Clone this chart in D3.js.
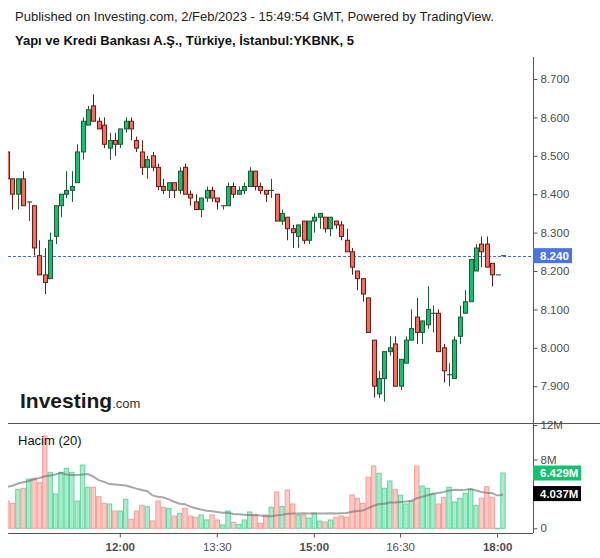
<!DOCTYPE html>
<html>
<head>
<meta charset="utf-8">
<script src="https://cdn.jsdelivr.net/npm/d3@7"></script>
<style>
  body { margin: 0; background: #fff; }
  svg { display: block; font-family: "Liberation Sans", Arial, sans-serif; }
</style>
</head>
<body>
<svg id="chart" width="600" height="558"></svg>
<script>
// --- dati (prezzi in TRY, volumi in milioni) ---
const opens = [8.51,8.44,8.40,8.44,8.38,8.37,8.24,8.19,8.18,8.29,8.37,8.40,8.41,8.43,8.51,8.58,8.63,8.59,8.58,8.52,
  8.54,8.53,8.57,8.59,8.54,8.51,8.47,8.50,8.47,8.42,8.41,8.43,8.41,8.47,8.40,8.38,8.36,8.39,8.41,8.39,
  8.37,8.37,8.42,8.40,8.41,8.42,8.46,8.42,8.41,8.41,8.40,8.33,8.34,8.31,8.29,8.33,8.28,8.33,8.34,8.34,
  8.31,8.33,8.32,8.28,8.25,8.20,8.18,8.13,8.02,7.88,7.92,7.99,8.01,7.90,7.96,8.02,8.08,8.04,8.06,8.09,
  8.09,8.00,7.93,7.92,8.03,8.09,8.12,8.20,8.27,8.27,8.22,8.19,8.24]
const highs = [8.51,8.44,8.44,8.46,8.38,8.37,8.28,8.26,8.30,8.37,8.40,8.46,8.46,8.53,8.60,8.63,8.66,8.60,8.60,8.56,
  8.56,8.57,8.60,8.60,8.55,8.54,8.50,8.51,8.48,8.44,8.43,8.43,8.47,8.48,8.41,8.40,8.39,8.42,8.42,8.39,
  8.37,8.43,8.43,8.42,8.43,8.47,8.46,8.43,8.41,8.44,8.40,8.36,8.34,8.32,8.32,8.33,8.33,8.35,8.35,8.34,
  8.34,8.33,8.33,8.31,8.26,8.20,8.18,8.13,8.02,7.94,7.99,8.03,8.03,7.97,8.03,8.10,8.13,8.07,8.16,8.11,
  8.10,8.01,7.96,8.03,8.11,8.15,8.23,8.27,8.29,8.29,8.22,8.19,8.24]
const lows = [8.44,8.36,8.36,8.37,8.33,8.24,8.19,8.14,8.18,8.27,8.34,8.39,8.38,8.43,8.49,8.58,8.59,8.57,8.52,8.49,
  8.50,8.52,8.56,8.54,8.51,8.45,8.44,8.46,8.41,8.40,8.39,8.39,8.40,8.40,8.37,8.36,8.34,8.38,8.38,8.36,
  8.36,8.37,8.39,8.40,8.40,8.42,8.41,8.40,8.38,8.39,8.33,8.32,8.28,8.26,8.26,8.27,8.27,8.30,8.31,8.30,
  8.29,8.31,8.28,8.25,8.19,8.15,8.12,8.04,7.87,7.87,7.86,7.98,7.90,7.89,7.96,8.02,8.01,8.01,8.05,8.04,
  7.99,7.91,7.90,7.92,8.01,8.09,8.12,8.20,8.21,8.21,8.16,8.19,8.24]
const closes = [8.44,8.40,8.44,8.37,8.38,8.26,8.19,8.17,8.28,8.37,8.40,8.41,8.42,8.51,8.59,8.62,8.59,8.57,8.53,8.54,
  8.53,8.57,8.59,8.57,8.52,8.47,8.49,8.47,8.42,8.41,8.43,8.41,8.46,8.40,8.39,8.36,8.39,8.41,8.39,8.38,
  8.37,8.42,8.40,8.41,8.42,8.46,8.42,8.41,8.40,8.41,8.33,8.35,8.31,8.30,8.32,8.28,8.33,8.34,8.35,8.31,
  8.34,8.32,8.29,8.25,8.21,8.18,8.14,8.04,7.90,7.92,7.99,8.00,7.90,7.97,8.02,8.05,8.04,8.07,8.10,8.09,
  7.99,7.94,7.93,8.02,8.08,8.12,8.23,8.26,8.25,8.21,8.19,8.19,8.24]
const volumes = [3.17,2.90,4.53,4.65,5.73,5.81,5.30,10.73,6.51,3.99,6.51,6.98,6.51,3.17,7.36,4.77,4.77,3.67,2.90,2.83,
  2.01,2.01,3.37,1.05,2.01,2.67,2.51,0.85,3.17,2.44,2.32,1.43,1.74,2.32,1.43,1.28,1.55,0.97,1.55,0.97,
  0.38,2.01,0.70,0.45,0.97,1.90,1.63,0.58,1.55,2.44,4.22,2.56,4.45,2.83,1.55,1.55,1.20,1.74,0.85,0.73,
  0.97,1.28,1.43,1.28,3.87,3.49,2.90,5.93,7.24,6.40,4.65,5.50,4.53,3.84,2.83,3.17,7.24,4.92,4.65,3.99,
  2.83,3.60,4.77,3.06,3.49,4.07,4.53,2.67,3.49,4.84,3.60,0,6.429]
// media mobile a 20 per le prime barre (dipende da dati precedenti)
const maHead = [4.80,4.95,5.20,5.35,5.50,5.70,5.85,6.05,6.15,6.25,6.45,6.25,6.20,6.20,6.25,6.30,6.00,5.60,5.40]
const timeLabels = ['12:00','13:30','15:00','16:30','18:00']
const timeBars = [21,39,57,73,91]
const priceTicks = [7.9,8.0,8.1,8.2,8.3,8.4,8.5,8.6,8.7]
const volTicks = [0,8,12]
const lastPrice = 8.24
const lastVolume = 6.429
const lastMa = 4.037

const svg = d3.select('#chart')
const upFill = '#0fc26d', upLine = '#1d5b37'
const dnFill = '#fb6b5c', dnLine = '#6b1c17'
const axisColor = '#555'
const labelColor = '#4d4d4d'

const left = 8, right = 533
const priceTop = 57, priceBottom = 423
const volTop = 423, volBottom = 533

const bars = opens.map((o, i) => ({ i: i, o: o, h: highs[i], l: lows[i], c: closes[i], v: volumes[i] }))

// media mobile: prime barre lette, poi calcolata
bars.forEach((d, i) => {
	d.ma = i < maHead.length ? maHead[i] : d3.mean(volumes.slice(i - 19, i + 1))
})

const x = d3.scaleBand()
	.domain(d3.range(bars.length))
	.range([4.4, 4.4 + 5.39 * bars.length])
const cx = i => x(i) + x.bandwidth() / 2

const y = d3.scaleLinear().domain([7.9, 8.7]).range([386.2, 79])
const yv = d3.scaleLinear().domain([0, 12]).range([528.3, 425.1])

svg.append('rect').attr('width', 600).attr('height', 558).attr('fill', '#fff')

// intestazione
svg.append('text')
	.attr('x', 15).attr('y', 21)
	.style('font-size', '13px').style('fill', '#222')
	.text('Published on Investing.com, 2/Feb/2023 - 15:49:54 GMT, Powered by TradingView.')
svg.append('text')
	.attr('x', 15).attr('y', 45)
	.style('font-size', '13px').style('font-weight', 'bold').style('fill', '#111')
	.text('Yapı ve Kredi Bankası A.Ş., Türkiye, İstanbul:YKBNK, 5')

const defs = svg.append('defs')
defs.append('clipPath').attr('id', 'clipPrice')
	.append('rect').attr('x', left).attr('y', priceTop).attr('width', right - left).attr('height', priceBottom - priceTop)
defs.append('clipPath').attr('id', 'clipVol')
	.append('rect').attr('x', left).attr('y', volTop).attr('width', right - left).attr('height', volBottom - volTop)

// logo
const logo = svg.append('text').attr('x', 20).attr('y', 408).style('fill', '#1a1a1a')
logo.append('tspan').text('Investing').style('font-size', '21px').style('font-weight', 'bold')
logo.append('tspan').text('.com').style('font-size', '13px').style('fill', '#333')

// candele
const pricePane = svg.append('g').attr('clip-path', 'url(#clipPrice)')

pricePane.append('line')
	.attr('x1', left).attr('x2', right)
	.attr('y1', Math.round(y(lastPrice)) + 0.5).attr('y2', Math.round(y(lastPrice)) + 0.5)
	.attr('stroke', '#3d6ae0').attr('stroke-dasharray', '3,2')

const candles = pricePane.selectAll('g.candle')
	.data(bars)
	.enter()
	.append('g')
	.attr('class', 'candle')

candles.append('line')
	.attr('x1', d => Math.round(cx(d.i)) + 0.5)
	.attr('x2', d => Math.round(cx(d.i)) + 0.5)
	.attr('y1', d => y(d.h))
	.attr('y2', d => y(d.l))
	.attr('stroke', d => d.c >= d.o ? upLine : dnLine)

candles.append('rect')
	.attr('x', d => Math.round(cx(d.i)) - 1.5)
	.attr('width', 4)
	.attr('y', d => y(Math.max(d.o, d.c)))
	.attr('height', d => Math.max(0.1, y(Math.min(d.o, d.c)) - y(Math.max(d.o, d.c))))
	.attr('fill', d => d.c >= d.o ? upFill : dnFill)
	.attr('stroke', d => d.c >= d.o ? upLine : dnLine)
	.attr('stroke-width', 1)

// volumi
const volPane = svg.append('g').attr('clip-path', 'url(#clipVol)')

volPane.selectAll('rect.vol')
	.data(bars)
	.enter()
	.append('rect')
	.attr('class', 'vol')
	.attr('x', d => x(d.i) + 0.5)
	.attr('width', x.bandwidth() - 1)
	.attr('y', d => yv(d.v))
	.attr('height', d => Math.max(0.5, yv(0) - yv(d.v)))
	.attr('fill', d => d.c >= d.o ? '#a9ebcb' : '#ffc9c5')
	.attr('stroke', d => d.c >= d.o ? '#5fd9a0' : '#fb9d95')
	.attr('stroke-width', 1)

volPane.append('path')
	.datum(bars)
	.attr('d', d3.line().x(d => cx(d.i)).y(d => yv(d.ma)))
	.attr('fill', 'none')
	.attr('stroke', '#6e6e6e')
	.attr('stroke-opacity', 0.6)
	.attr('stroke-width', 2)

svg.append('text')
	.attr('x', 18).attr('y', 445)
	.style('font-size', '13px').style('fill', '#111')
	.text('Hacim (20)')

// cornici
svg.append('line').attr('x1', left).attr('x2', 600).attr('y1', volTop + 0.5).attr('y2', volTop + 0.5).attr('stroke', axisColor)
svg.append('line').attr('x1', left).attr('x2', right).attr('y1', volBottom + 0.5).attr('y2', volBottom + 0.5).attr('stroke', axisColor)

// assi
const priceAxis = svg.append('g')
	.attr('transform', `translate(${right + 0.5}, 0)`)
	.call(d3.axisRight(y).tickValues(priceTicks).tickFormat(d3.format('.3f')).tickSize(4).tickSizeOuter(0))
const volAxis = svg.append('g')
	.attr('transform', `translate(${right + 0.5}, 0)`)
	.call(d3.axisRight(yv).tickValues(volTicks).tickFormat(d => d === 0 ? '0' : d + 'M').tickSize(4).tickSizeOuter(0))

svg.selectAll('path.domain').remove()
svg.append('line')
	.attr('x1', right + 0.5).attr('x2', right + 0.5)
	.attr('y1', priceTop).attr('y2', volBottom)
	.attr('stroke', axisColor)

const timeAxis = svg.append('g')
	.attr('transform', `translate(0, ${volBottom + 0.5})`)
	.call(d3.axisBottom(x).tickValues(timeBars).tickFormat((d, k) => timeLabels[k]).tickSize(4).tickSizeOuter(0))
timeAxis.select('path.domain').remove()

svg.selectAll('.tick line').attr('stroke', axisColor)
svg.selectAll('.tick text')
	.style('font-family', '"Liberation Sans", Arial, sans-serif')
	.style('font-size', '11.5px')
	.attr('fill', labelColor)
priceAxis.selectAll('.tick text').attr('x', 7)
volAxis.selectAll('.tick text').attr('x', 7)
timeAxis.selectAll('.tick text')
	.attr('y', 9)
	.style('font-weight', (d, k) => timeLabels[k].endsWith(':00') ? 'bold' : 'normal')

// etichette dell'ultimo valore
const tag = (val, text, fill) => {
	const g = svg.append('g').attr('transform', `translate(${right}, ${val})`)
	g.append('rect').attr('x', 0).attr('y', -7.5).attr('width', text.length > 5 ? 48 : 39).attr('height', 15).attr('fill', fill)
	g.append('text').attr('x', 7).attr('y', 0).attr('dy', '0.35em')
		.style('font-size', '11.5px').style('font-weight', 'bold').style('fill', '#fff')
		.text(text)
}
tag(y(lastPrice), d3.format('.3f')(lastPrice), '#4a74e6')
tag(yv(lastVolume), d3.format('.3f')(lastVolume) + 'M', '#13c26e')
tag(yv(lastMa), d3.format('.3f')(lastMa) + 'M', '#000')
</script>
</body>
</html>
